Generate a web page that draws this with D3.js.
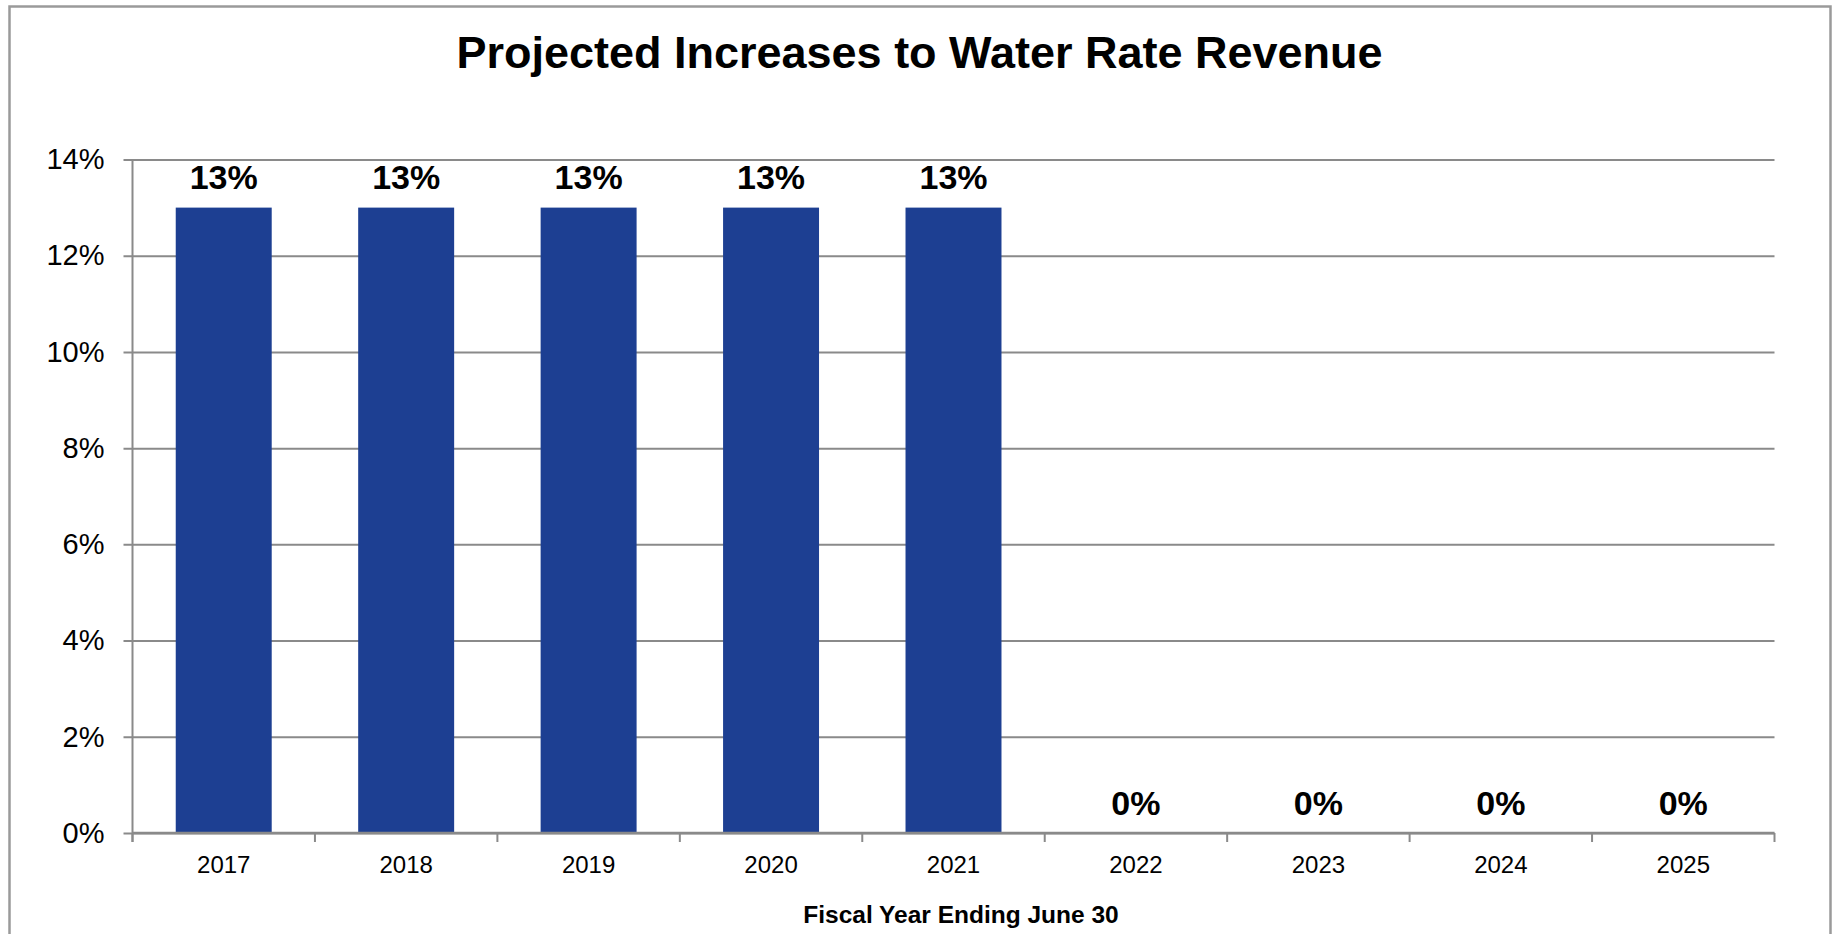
<!DOCTYPE html>
<html>
<head>
<meta charset="utf-8">
<script src="https://cdn.jsdelivr.net/npm/d3@7"></script>
<style>
  html, body { margin: 0; padding: 0; background: #fff; overflow: hidden; }
  svg { display: block; font-family: "Liberation Sans", Arial, Helvetica, sans-serif; }
</style>
</head>
<body>
<svg id="chart" width="1833" height="934"></svg>
<script>
// Fiscal years and projected revenue increase (%)
const years = ["2017", "2018", "2019", "2020", "2021", "2022", "2023", "2024", "2025"];
const increases = [13, 13, 13, 13, 13, 0, 0, 0, 0];
const yTicks = [0, 2, 4, 6, 8, 10, 12, 14];
const titleText = "Projected Increases to Water Rate Revenue";
const xAxisTitle = "Fiscal Year Ending June 30";

const W = 1833, H = 934;
const plot = { left: 132.5, right: 1774.5, top: 159.5, bottom: 833 };
const gridColor = "#8a8a8a";
const barColor = "#1d3f92";

const svg = d3.select("#chart");

// Outer frame of the chart area
svg.append("rect")
  .attr("x", 9.5).attr("y", 6.5)
  .attr("width", 1821).attr("height", 960)
  .attr("fill", "#fff")
  .attr("stroke", "#9a9a9a").attr("stroke-width", 2.5);

const x = d3.scaleBand()
  .domain(years)
  .range([plot.left, plot.right])
  .paddingInner(0.474)
  .paddingOuter(0.237);

const y = d3.scaleLinear()
  .domain([0, 14])
  .range([plot.bottom, plot.top]);

// Horizontal gridlines with short ticks left of the axis
const yAxis = d3.axisLeft(y)
  .tickValues(yTicks)
  .tickFormat(d => d + "%")
  .tickSizeInner(-(plot.right - plot.left))
  .tickSizeOuter(0)
  .tickPadding(28);

const gy = svg.append("g")
  .attr("transform", `translate(${plot.left},0)`)
  .call(yAxis);
gy.select(".domain").remove();
gy.selectAll(".tick line")
  .attr("x1", -9)
  .attr("stroke", gridColor).attr("stroke-width", 2);
gy.selectAll(".tick text")
  .attr("fill", "#000")
  .attr("font-size", 29)
  .attr("font-family", "'Liberation Sans', Arial, sans-serif");

// Vertical axis line
svg.append("line")
  .attr("x1", plot.left).attr("x2", plot.left)
  .attr("y1", plot.top).attr("y2", plot.bottom + 9)
  .attr("stroke", gridColor).attr("stroke-width", 2);

// Bars
svg.append("g").selectAll("rect")
  .data(years.map((yr, i) => ({ yr, v: increases[i] })))
  .join("rect")
  .attr("x", d => x(d.yr))
  .attr("y", d => y(d.v))
  .attr("width", x.bandwidth())
  .attr("height", d => y(0) - y(d.v))
  .attr("fill", barColor);

// Category axis: labels centred under bars, ticks on category boundaries
const xAxis = d3.axisBottom(x).tickSize(0).tickPadding(40);
const gx = svg.append("g")
  .attr("transform", `translate(0,${plot.bottom})`)
  .call(xAxis);
gx.select(".domain").remove();
gx.selectAll(".tick text")
  .attr("fill", "#000")
  .attr("font-size", 24)
  .attr("dy", "0")
  .attr("font-family", "'Liberation Sans', Arial, sans-serif");
gx.selectAll(".tick text").attr("y", 40);

svg.append("line")
  .attr("x1", plot.left).attr("x2", plot.right)
  .attr("y1", plot.bottom).attr("y2", plot.bottom)
  .attr("stroke", gridColor).attr("stroke-width", 2.5);

const step = x.step();
const boundaries = d3.range(years.length + 1).map(i => x(years[0]) - step * x.paddingInner() / 2 + i * step);
svg.append("g").selectAll("line")
  .data(boundaries)
  .join("line")
  .attr("x1", d => d).attr("x2", d => d)
  .attr("y1", plot.bottom).attr("y2", plot.bottom + 9)
  .attr("stroke", gridColor).attr("stroke-width", 2);

// Value labels above each bar
svg.append("g").selectAll("text")
  .data(years.map((yr, i) => ({ yr, v: increases[i] })))
  .join("text")
  .attr("x", d => x(d.yr) + x.bandwidth() / 2)
  .attr("y", d => y(d.v) - 18.5)
  .attr("text-anchor", "middle")
  .attr("font-size", 34)
  .attr("font-weight", "bold")
  .attr("fill", "#000")
  .text(d => d.v + "%");

// Chart title
svg.append("text")
  .attr("x", W / 2 + 3)
  .attr("y", 68)
  .attr("text-anchor", "middle")
  .attr("font-size", 45)
  .attr("font-weight", "bold")
  .attr("fill", "#000")
  .text(titleText);

// Horizontal axis title
svg.append("text")
  .attr("x", 961)
  .attr("y", 923)
  .attr("text-anchor", "middle")
  .attr("font-size", 24.5)
  .attr("font-weight", "bold")
  .attr("fill", "#000")
  .text(xAxisTitle);
</script>
</body>
</html>
